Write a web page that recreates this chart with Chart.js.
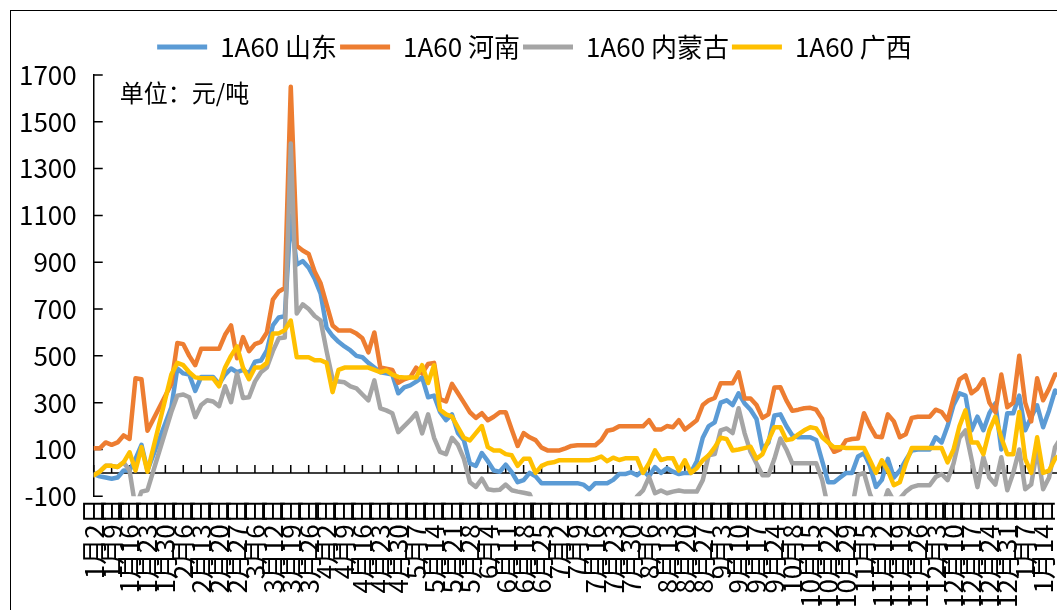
<!DOCTYPE html>
<html>
<head>
  <meta charset="UTF-8">
  <title>1A60 价格</title>
  <script src="https://cdn.jsdelivr.net/npm/chart.js"></script>
  <style>
    html, body { margin: 0; padding: 0; overflow: hidden; background: #fff; }
    #frame { position: absolute; left: 10px; top: 10px; width: 1200px; height: 700px; border: 1px solid #000; }
    #chart { position: absolute; left: 0; top: 0; }
  </style>
</head>
<body>
  <div id="frame"></div>
  <canvas id="chart" width="1075" height="610"></canvas>

  <script>
    // one label per week, three readings per week
    const weekLabels = ['1月2日','1月9日','1月16日','1月23日','1月30日','2月6日','2月13日','2月20日','2月27日',
      '3月6日','3月12日','3月19日','3月26日','4月2日','4月9日','4月16日','4月23日','4月30日',
      '5月7日','5月14日','5月21日','5月28日','6月4日','6月11日','6月18日','6月25日',
      '7月2日','7月9日','7月16日','7月23日','7月30日','8月6日','8月13日','8月20日','8月27日',
      '9月3日','9月10日','9月17日','9月24日','10月8日','10月15日','10月22日','10月29日',
      '11月5日','11月12日','11月19日','11月26日','12月3日','12月10日','12月17日','12月24日','12月31日',
      '1月7日','1月14日'];
    const perWeek = 3;

    const shandong = [
      -5, -15, -20, -25, -20, 10, 10, 60, 120, 10,
      null, null, null, 280, 446, 425, 420, 350, 410, 410,
      410, 380, 420, 446, 430, 440, 425, 475, 480, 523,
      630, 664, 670, 1100, 890, 905, 877, 830, 766, 620,
      585, 560, 540, 523, 500, 494, 470, 450, 430, 425,
      420, 340, 365, 374, 390, 408, 323, 330, 260, 225,
      250, 170, 139, 40, 30, 85, 50, 10, 5, 35,
      3, -40, -31, 0, -15, -44, -44, -44, -44, -44,
      -44, -44, -50, -70, -44, -44, -44, -30, -5, -5,
      3, -10, 10, -15, 25, 0, 20, 5, -5, 0,
      0, 50, 150, 200, 216, 300, 310, 290, 340, 297,
      270, 230, 100, 130, 245, 250, 200, 160, 152, 152,
      152, 140, 50, -40, -40, -20, 0, 0, 70, 84,
      30, -60, -30, 60, -20, 10, 54, 96, 100, 100,
      100, 152, 130, 200, 290, 340, 330, 182, 240, 182,
      255, 297, 100, 255, 255, 330, 182, 238, 289, 195,
      267, 352, 330, 300
    ];
    const henan = [
      105, 105, 130, 120, 130, 160, 145, 404, 400, 180,
      null, null, null, 380, 555, 550, 500, 460, 530, 530,
      530, 530, 590, 630, 490, 580, 520, 550, 560, 600,
      740, 775, 790, 1650, 970, 950, 935, 860, 810, 720,
      630, 608, 608, 608, 595, 575, 515, 600, 450, 445,
      440, 385, 400, 408, 450, 425, 465, 470, 315, 305,
      380, 340, 300, 259, 235, 255, 225, 240, 259, 259,
      185, 115, 170, 152, 140, 108, 96, 96, 96, 105,
      115, 118, 118, 118, 118, 140, 180, 185, 199, 199,
      199, 199, 199, 225, 185, 185, 200, 195, 225, 185,
      205, 225, 290, 310, 320, 383, 383, 383, 430, 318,
      318, 290, 235, 250, 365, 366, 310, 265, 270, 276,
      278, 270, 230, 135, 90, 100, 139, 145, 147, 255,
      200, 155, 152, 250, 220, 152, 165, 235, 240, 240,
      240, 270, 260, 225, 320, 400, 417, 340, 360, 400,
      300, 260, 420, 280, 300, 500, 300, 220, 404, 310,
      360, 420, 420, 400
    ];
    const neimenggu = [
      -10, 5, 30, 30, 25, 45, 10, -150, -80, -74,
      null, null, null, 260, 330, 335, 323, 238, 290, 310,
      305, 285, 370, 302, 425, 320, 323, 390, 430, 450,
      520, 575, 578, 1407, 681, 720, 700, 670, 651, 520,
      400, 390, 387, 370, 361, 335, 310, 395, 276, 267,
      255, 174, 200, 225, 255, 169, 250, 150, 90, 80,
      150, 120, 60, -40, -60, -25, -70, -74, -72, -50,
      -74, -80, -85, -90, -150, -150, -150, -150, -150, -150,
      -150, -150, -150, -150, -150, -150, -150, -150, -150, -150,
      -150, -100, -75, -18, -87, -75, -87, -80, -75, -80,
      -80, -80, -31, 75, 80, 182, 190, 170, 276, 170,
      90, 40, -10, -10, 60, 147, 100, 41, 41, 41,
      41, 41, -30, -150, -150, -150, -150, -150, -10, 0,
      -90, -150, -150, -74, -120, -110, -80, -61, -53, -53,
      -53, -18, -5, -31, 40, 150, 182, 60, -61, 67,
      -20, -50, 67, -74, 0, 100, -70, -50, 100, -70,
      -20, 110, 150, 150
    ];
    const guangxi = [
      -10, 5, 30, 30, 25, 45, 88, 10, 110, 5,
      null, null, null, 420, 470, 460, 430, 408, 404, 404,
      404, 370, 450, 500, 540, 450, 400, 450, 450, 470,
      596, 596, 610, 651, 494, 494, 494, 481, 481, 470,
      345, 440, 450, 450, 450, 450, 450, 440, 430, 438,
      420, 410, 408, 408, 408, 460, 384, 460, 270, 250,
      240, 195, 150, 139, 170, 200, 110, 96, 96, 80,
      75, 30, 60, 60, 0, 30, 41, 45, 54, 54,
      54, 54, 54, 54, 60, 70, 50, 65, 55, 62,
      62, 62, 0, 41, 96, 55, 62, 62, 10, 54,
      0, 20, 54, 75, 109, 150, 145, 96, 100, 106,
      112, 60, 80, 139, 195, 195, 140, 145, 165, 182,
      195, 190, 152, 130, 109, 110, 106, 106, 106, 106,
      54, 0, 54, 10, -53, -40, 40, 106, 106, 106,
      106, 106, 106, 45, 100, 200, 267, 130, 130, 80,
      182, 240, 150, 80, 80, 260, 60, 0, 152, 0,
      10, 60, 80, 100
    ];

    const categories = shandong.map((_, i) =>
      i % perWeek === 0 && weekLabels[i / perWeek] ? weekLabels[i / perWeek] : '');

    const FONT = "'Noto Sans CJK SC', 'Noto Sans', sans-serif";
    Chart.defaults.font.family = FONT;
    Chart.defaults.font.size = 26;
    Chart.defaults.color = '#000';

    // a bit more room under the legend
    const legendGap = {
      id: 'legendGap',
      beforeInit(chart) {
        const fit = chart.legend.fit;
        chart.legend.fit = function () {
          fit.call(this);
          this.height += 5;
        };
      }
    };

    // 0-line with week ticks, inward y ticks, unit note
    const axisMarks = {
      id: 'axisMarks',
      beforeDatasetsDraw(chart) {
        const { ctx, chartArea, scales: { x, y } } = chart;
        const y0 = y.getPixelForValue(0);
        ctx.save();
        ctx.strokeStyle = '#000';
        ctx.lineWidth = 1.5;
        ctx.beginPath();
        ctx.moveTo(chartArea.left, y0);
        ctx.lineTo(chartArea.right, y0);
        categories.forEach((c, i) => {
          if (i % perWeek === 0) {
            const px = x.getPixelForValue(i);
            ctx.moveTo(px, y0);
            ctx.lineTo(px, y0 - 8);
          }
        });
        y.ticks.forEach(t => {
          const py = y.getPixelForValue(t.value);
          ctx.moveTo(chartArea.left, py);
          ctx.lineTo(chartArea.left + 9, py);
        });
        ctx.stroke();
        ctx.font = '24px ' + FONT;
        ctx.fillStyle = '#000';
        ctx.textBaseline = 'middle';
        ctx.fillText('单位：元/吨', chartArea.left + 26, chartArea.top + 18);
        ctx.restore();
      }
    };

    function series(label, data, color, order) {
      return {
        label: label, data: data, borderColor: color, backgroundColor: color,
        borderWidth: 4.5, pointRadius: 0, tension: 0, order: order,
        borderJoinStyle: 'round', borderCapStyle: 'round', clip: 0
      };
    }

    new Chart(document.getElementById('chart'), {
      type: 'line',
      data: {
        labels: categories,
        datasets: [
          series('1A60 山东', shandong, '#5B9BD5', 3),
          series('1A60 河南', henan, '#ED7D31', 2),
          series('1A60 内蒙古', neimenggu, '#A5A5A5', 1),
          series('1A60 广西', guangxi, '#FFC000', 0)
        ]
      },
      options: {
        responsive: false,
        animation: false,
        events: [],
        spanGaps: true,
        layout: { padding: { left: 2, top: 31, right: 8, bottom: 0 } },
        plugins: {
          tooltip: { enabled: false },
          legend: {
            position: 'top',
            labels: {
              boxWidth: 50,
              boxHeight: 5,
              padding: 3,
              font: { size: 26 },
              sort: (a, b) => a.datasetIndex - b.datasetIndex,
              generateLabels: chart => Chart.defaults.plugins.legend.labels.generateLabels(chart)
                .map(item => Object.assign(item, { lineWidth: 0 }))
            }
          }
        },
        scales: {
          x: {
            grid: { display: false, drawTicks: false },
            border: { display: false },
            ticks: { autoSkip: false, maxRotation: 90, minRotation: 90, padding: 2, font: { size: 26 } },
            afterFit: scale => { scale.paddingLeft = 0; scale.paddingRight = 0; }
          },
          y: {
            min: -100,
            max: 1700,
            grid: { display: false, drawTicks: false },
            border: { display: true, color: '#000', width: 1.5 },
            ticks: { stepSize: 200, padding: 17, font: { size: 26 }, callback: v => String(v) }
          }
        }
      },
      plugins: [legendGap, axisMarks]
    });
  </script>
</body>
</html>
